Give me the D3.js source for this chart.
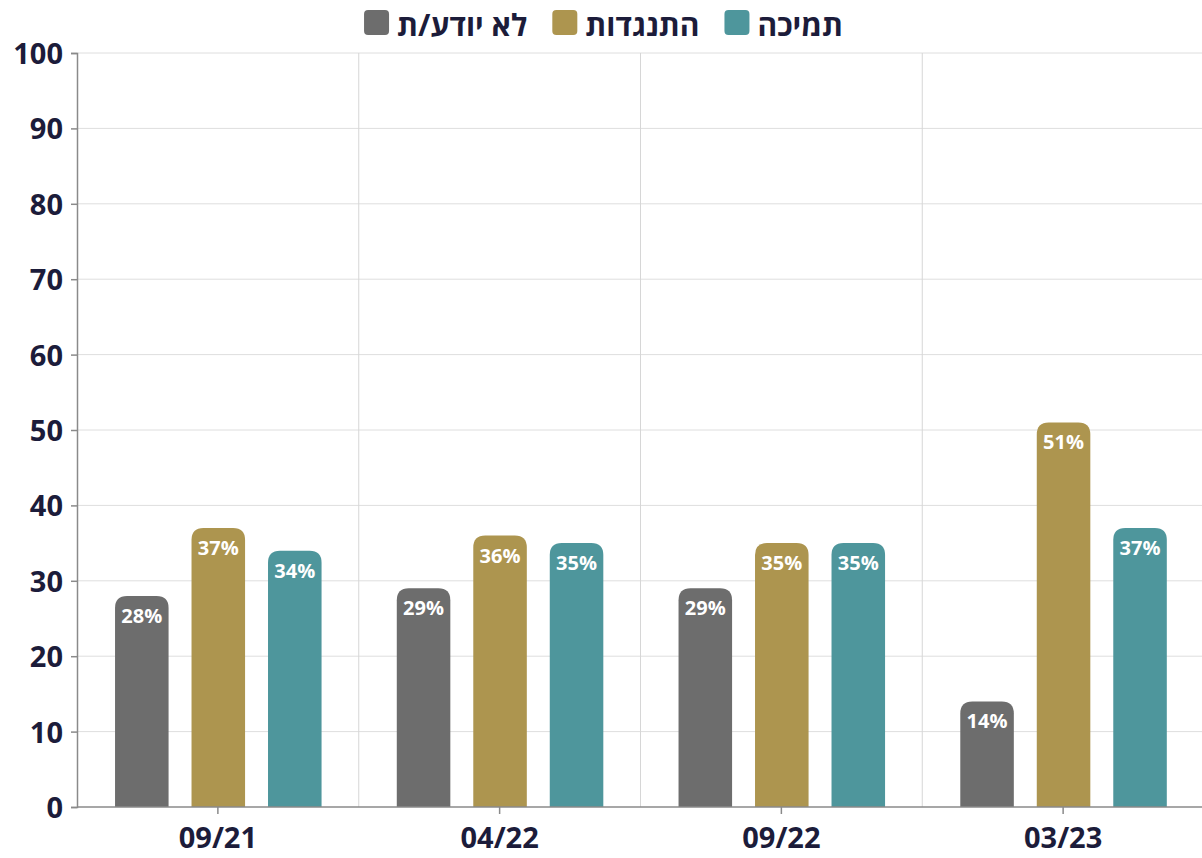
<!DOCTYPE html>
<html><head><meta charset="utf-8">
<script src="https://cdn.jsdelivr.net/npm/d3@7"></script>
<style>
html,body{margin:0;padding:0;background:#fff;}
svg{display:block;font-family:"Open Sans","Noto Sans",sans-serif;}
</style></head>
<body><svg id="c" width="1202" height="858"></svg>
<script>
const categories = ["09/21","04/22","09/22","03/23"];
const seriesNames = ["לא יודע/ת","התנגדות","תמיכה"];
const seriesColors = ["#6d6d6d","#ad954f","#4e969c"];
const dontKnow = [28,29,29,14];
const oppose = [37,36,35,51];
const support = [34,35,35,37];
const yTicks = [0,10,20,30,40,50,60,70,80,90,100];

const values = [dontKnow, oppose, support];
const svg = d3.select("#c");
const textCol = "#1c1c3a";
const mLeft = 77, mRight = 1204, mTop = 53, mBottom = 807;

const x0 = d3.scaleBand().domain(categories).range([mLeft, mRight]).padding(0);
const bw = x0.bandwidth();
const x1 = d3.scaleBand().domain(d3.range(3)).range([bw*0.135, bw*0.868]).paddingInner(0.3).paddingOuter(0);
const y = d3.scaleLinear().domain([0,100]).range([mBottom, mTop]);

// horizontal grid
svg.append("g").selectAll("line").data(yTicks.filter(d=>d>0)).join("line")
  .attr("x1", mLeft).attr("x2", 1202).attr("y1", d=>y(d)).attr("y2", d=>y(d))
  .attr("stroke", "#dedede").attr("stroke-width", 1);
// vertical grid at band boundaries
svg.append("g").selectAll("line").data(categories.slice(1)).join("line")
  .attr("x1", d=>x0(d)).attr("x2", d=>x0(d)).attr("y1", mTop).attr("y2", mBottom)
  .attr("stroke", "#d6d6d6").attr("stroke-width", 1);

// bars
function topRounded(x, yTop, w, h, r){
  r = Math.min(r, h, w/2);
  return `M${x},${yTop+h}V${yTop+r}Q${x},${yTop} ${x+r},${yTop}H${x+w-r}Q${x+w},${yTop} ${x+w},${yTop+r}V${yTop+h}Z`;
}
const barData = [];
categories.forEach((c,i)=>values.forEach((s,j)=>barData.push({c, j, v:s[i]})));
const gBars = svg.append("g");
gBars.selectAll("path").data(barData).join("path")
  .attr("d", d=>topRounded(x0(d.c)+x1(d.j), y(d.v), x1.bandwidth(), y(0)-y(d.v), 12))
  .attr("fill", d=>seriesColors[d.j]);
gBars.selectAll("text").data(barData).join("text")
  .attr("x", d=>x0(d.c)+x1(d.j)+x1.bandwidth()/2)
  .attr("y", d=>y(d.v)+27)
  .attr("text-anchor","middle").attr("fill","#fff")
  .attr("font-size", 20).attr("font-weight", 700)
  .text(d=>d.v+"%");

// y axis
const yAxis = svg.append("g").attr("transform", `translate(${mLeft},0)`)
  .call(d3.axisLeft(y).tickValues(yTicks).tickSize(6).tickPadding(8));
yAxis.select(".domain").attr("stroke","#8a8a8a").attr("stroke-width",1.5);
yAxis.selectAll(".tick line").attr("stroke","#8a8a8a").attr("stroke-width",1.5);
yAxis.selectAll(".tick text").attr("fill", textCol).attr("font-size", 29).attr("font-weight", 700)
  .attr("font-family", '"Open Sans",sans-serif').attr("dy","0.36em");

// x axis
const xAxis = svg.append("g").attr("transform", `translate(0,${mBottom})`)
  .call(d3.axisBottom(x0).tickSize(7).tickPadding(13).tickSizeOuter(0));
xAxis.select(".domain").attr("stroke","#8a8a8a").attr("stroke-width",1.5).attr("d", `M${mLeft},0H1202`);
xAxis.selectAll(".tick line").attr("stroke","#8a8a8a").attr("stroke-width",1.5);
xAxis.selectAll(".tick text").attr("fill", textCol).attr("font-size", 29).attr("font-weight", 700)
  .attr("font-family", '"Open Sans",sans-serif').attr("dy","0.71em");

// legend (right to left)
const legend = svg.append("g");
let rx = 843;
[2,1,0].forEach(j=>{
  const t = legend.append("text").attr("x", rx).attr("y", 36)
    .attr("text-anchor","end").attr("fill", textCol)
    .attr("font-size", 30).attr("font-weight", 700).text(seriesNames[j]);
  const w = t.node().getComputedTextLength();
  const sx = rx - w - 8 - 25;
  legend.append("rect").attr("x", sx).attr("y", 10).attr("width", 25).attr("height", 25)
    .attr("rx", 4).attr("fill", seriesColors[j]);
  rx = sx - 25;
});
</script></body></html>
